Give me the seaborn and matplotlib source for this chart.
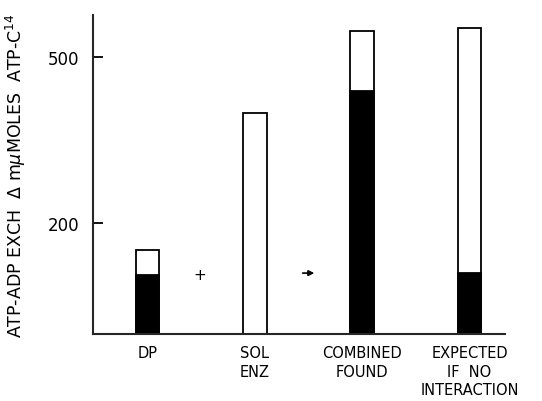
import pandas as pd
import seaborn as sns
import matplotlib.pyplot as plt

categories = ['DP', 'SOL\nENZ', 'COMBINED\nFOUND', 'EXPECTED\nIF  NO\nINTERACTION']
total_exch = [152, 400, 548, 552]
labeled_part = [106, 0, 438, 110]
yticks = [200, 500]

df = pd.DataFrame({'group': categories, 'total': total_exch, 'dark': labeled_part})

sns.set_style('ticks')
plt.rcParams['font.family'] = ['DejaVu Sans']
plt.rcParams.update({'text.color': 'black', 'axes.labelcolor': 'black',
                     'xtick.color': 'black', 'ytick.color': 'black',
                     'ytick.direction': 'in'})

fig = plt.figure(figsize=(5.42, 4.02), dpi=100)
ax = fig.add_axes([0.1716, 0.1667, 0.76, 0.7933])

sns.barplot(data=df, x='group', y='total', color='white', edgecolor='black',
            linewidth=1.3, width=0.22, ax=ax)
sns.barplot(data=df, x='group', y='dark', color='black', edgecolor='black',
            linewidth=1.3, width=0.22, ax=ax)

ax.set_xlim(-0.507, 3.33)
ax.set_ylim(0, 576)
ax.set_yticks(yticks)
ax.set_yticklabels([str(t) for t in yticks], fontsize=12)
ax.tick_params(axis='y', direction='in', length=7, width=1.3, pad=10)
ax.tick_params(axis='x', length=0, pad=8, labelsize=10.5)
for lab in ax.get_xticklabels():
    lab.set_linespacing(1.3)
    lab.set_verticalalignment('top')

ax.set_xlabel('')
ax.set_ylabel('ATP-ADP EXCH  $\\Delta$ m$\\mu$MOLES  ATP-C$^{14}$', fontsize=12.5)
ax.yaxis.set_label_coords(-0.158, 0.50)

sns.despine(ax=ax)
for s in ['left', 'bottom']:
    ax.spines[s].set_linewidth(1.5)

# operators between the bars
ax.text(0.49, 108, '+', ha='center', va='center', fontsize=11)
ax.annotate('', xy=(1.58, 110), xytext=(1.42, 110),
            arrowprops=dict(arrowstyle='-|>', color='black', lw=1.2, mutation_scale=8))

plt.savefig('out.png', dpi=100)
